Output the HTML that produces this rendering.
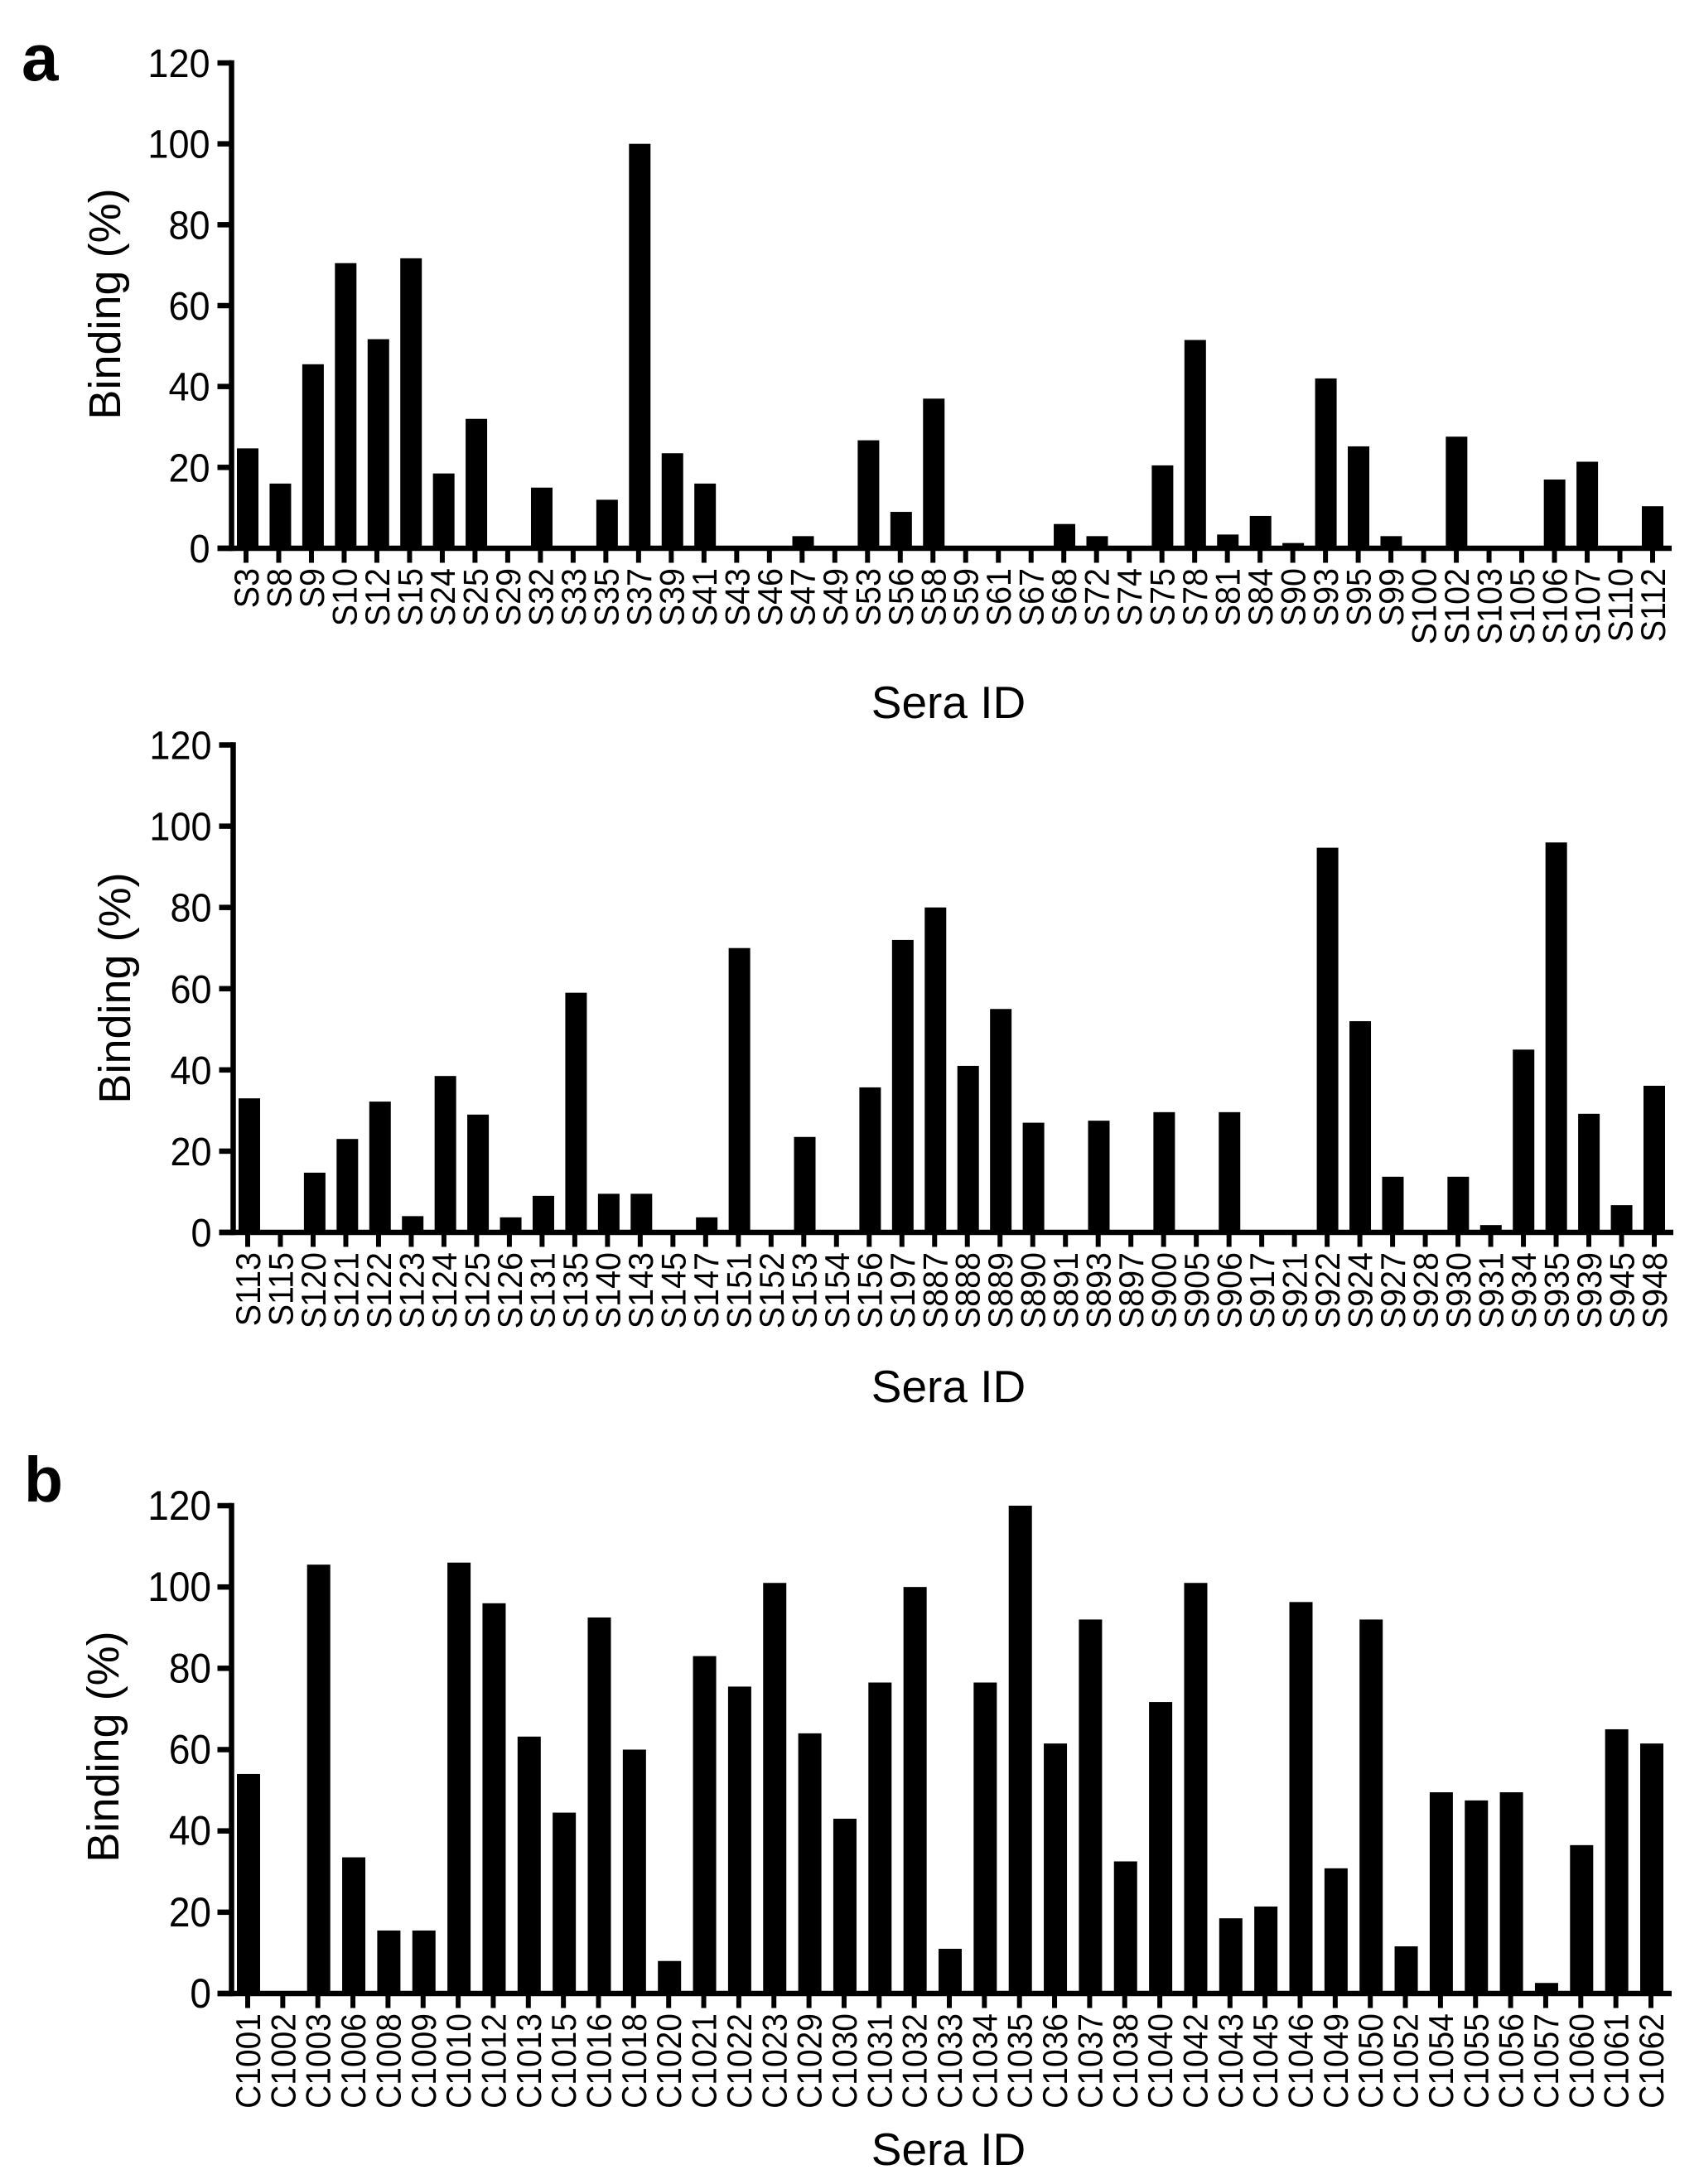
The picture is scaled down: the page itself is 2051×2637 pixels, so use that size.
<!DOCTYPE html>
<html lang="en">
<head>
<meta charset="utf-8">
<title>Sera binding charts</title>
<style>
html,body{margin:0;padding:0;background:#fff;}
svg{display:block;}
text{font-family:"Liberation Sans",Arial,sans-serif;fill:#000;}
</style>
</head>
<body>
<svg id="figure" xmlns="http://www.w3.org/2000/svg" width="2051" height="2637" viewBox="0 0 2051 2637">
  <rect width="2051" height="2637" fill="#fff"/>
  <text x="26" y="97" font-size="80" font-weight="700">a</text>
  <text x="29" y="1813" font-size="77" font-weight="700">b</text>
</svg>
<script>
const yTicks = [0, 20, 40, 60, 80, 100, 120];

const categoriesA1 = ["S3","S8","S9","S10","S12","S15","S24","S25","S29","S32","S33","S35","S37","S39","S41","S43","S46","S47","S49","S53","S56","S58","S59","S61","S67","S68","S72","S74","S75","S78","S81","S84","S90","S93","S95","S99","S100","S102","S103","S105","S106","S107","S110","S112"];
const valuesA1 = [24.7,16,45.5,70.5,51.7,71.7,18.5,32,0,15,0,12,100,23.5,16,0,0,3,0,26.7,9,37,0,0,0,6,3,0,20.5,51.5,3.4,8,1.3,42,25.2,3,0,27.6,0,0,17,21.4,0,10.4];

const categoriesA2 = ["S113","S115","S120","S121","S122","S123","S124","S125","S126","S131","S135","S140","S143","S145","S147","S151","S152","S153","S154","S156","S197","S887","S888","S889","S890","S891","S893","S897","S900","S905","S906","S917","S921","S922","S924","S927","S928","S930","S931","S934","S935","S939","S945","S948"];
const valuesA2 = [33,0,14.7,23,32.2,4,38.5,29,3.7,9,59,9.5,9.5,0,3.7,70,0,23.5,0,35.7,72,80,41,55,27,0,27.5,0,29.6,0,29.6,0,0,94.7,52,13.7,0,13.7,1.8,45,96,29.2,6.7,36.1];

const categoriesB = ["C1001","C1002","C1003","C1006","C1008","C1009","C1010","C1012","C1013","C1015","C1016","C1018","C1020","C1021","C1022","C1023","C1029","C1030","C1031","C1032","C1033","C1034","C1035","C1036","C1037","C1038","C1040","C1042","C1043","C1045","C1046","C1049","C1050","C1052","C1054","C1055","C1056","C1057","C1060","C1061","C1062"];
const valuesB = [54,0,105.5,33.5,15.5,15.5,106,96,63.2,44.5,92.5,60,8,83,75.5,101,64,43,76.5,100,11,76.5,120,61.5,92,32.5,71.7,101,18.5,21.4,96.3,30.8,92,11.6,49.5,47.5,49.5,2.6,36.5,65,61.5];

const SVG_NS = "http://www.w3.org/2000/svg";
const figure = document.getElementById("figure");

function make(tag, parent, attrs, content) {
  const el = document.createElementNS(SVG_NS, tag);
  for (const key in attrs) el.setAttribute(key, attrs[key]);
  if (content !== undefined) el.textContent = content;
  parent.appendChild(el);
  return el;
}

function drawChart(name, categories, values, layout) {
  const maxTick = yTicks[yTicks.length - 1];
  const lineW = 6.5;
  const yScale = v => layout.y0 - (v / maxTick) * (layout.y0 - layout.yTop);
  const barX = i => layout.barFirst + i * (layout.barLast - layout.barFirst) / (categories.length - 1);
  const tickX = i => layout.tickFirst + i * (layout.tickLast - layout.tickFirst) / (categories.length - 1);

  const chart = make("g", figure, {});
  
  

  const bars = make("g", chart, {});
  
  
  values.forEach((v, i) => {
    const bar = make("rect", bars, {
      x: barX(i) - layout.barWidth / 2,
      y: yScale(v),
      width: layout.barWidth,
      height: layout.y0 - yScale(v),
      fill: "#000"
    });
    
    
  });

  const yAxis = make("g", chart, {});
  
  
  make("rect", yAxis, {
    x: layout.axisX - lineW / 2,
    y: yScale(maxTick) - lineW / 2,
    width: lineW,
    height: layout.y0 - yScale(maxTick) + lineW,
    fill: "#000"
  });
  yTicks.forEach(t => {
    const mark = make("rect", yAxis, {
      x: layout.axisX - 17,
      y: yScale(t) - lineW / 2,
      width: 17,
      height: lineW,
      fill: "#000"
    });
    
    
    const label = make("text", yAxis, {
      transform: "translate(" + (layout.axisX - layout.yLabelGap) + "," + (yScale(t) + 17) + ") scale(1,1.08)",
      "font-size": layout.yFont,
      "text-anchor": "end"
    }, String(t));
    
    
  });

  const xAxis = make("g", chart, {});
  
  
  make("rect", xAxis, {
    x: layout.axisX - 17,
    y: layout.y0 - lineW / 2,
    width: layout.axisEnd - layout.axisX + 17,
    height: lineW,
    fill: "#000"
  });
  categories.forEach((c, i) => {
    const mark = make("rect", xAxis, {
      x: tickX(i) - 3,
      y: layout.y0,
      width: 6,
      height: 17.5,
      fill: "#000"
    });
    
    
    const label = make("text", xAxis, {
      transform: "translate(" + (tickX(i) + 15) + "," + (layout.y0 + 24) + ") rotate(-90) scale(1," + layout.xStretch + ")",
      "font-size": layout.xFont,
      "text-anchor": "end"
    }, c);
    
    
  });

  const yTitle = make("text", chart, {
    transform: "translate(" + layout.yTitleX + "," + layout.yTitleY + ") rotate(-90)",
    "font-size": 54,
    "text-anchor": "middle"
  }, "Binding (%)");
  
  

  const xTitle = make("text", chart, {
    x: 1145,
    y: layout.xTitleY,
    "font-size": 55,
    "text-anchor": "middle"
  }, "Sera ID");
  
  
}

drawChart("chart-a-top", categoriesA1, valuesA1, {
  y0: 662, yTop: 76, axisX: 279.5, axisEnd: 2018,
  barFirst: 299, barLast: 1995, tickFirst: 297, tickLast: 1995,
  barWidth: 26, xFont: 39.5, xStretch: 1.05, yFont: 45, yLabelGap: 26,
  yTitleX: 145, yTitleY: 367, xTitleY: 867
});
drawChart("chart-a-bottom", categoriesA2, valuesA2, {
  y0: 1488, yTop: 899.5, axisX: 281.5, axisEnd: 2020,
  barFirst: 301, barLast: 1997, tickFirst: 299, tickLast: 1997,
  barWidth: 26, xFont: 39.5, xStretch: 1.05, yFont: 45, yLabelGap: 26,
  yTitleX: 157, yTitleY: 1193, xTitleY: 1693
});
drawChart("chart-b", categoriesB, valuesB, {
  y0: 2407, yTop: 1818, axisX: 279.5, axisEnd: 2018,
  barFirst: 300, barLast: 1994, tickFirst: 299, tickLast: 1993,
  barWidth: 28, xFont: 39, xStretch: 1.07, yFont: 46, yLabelGap: 24.5,
  yTitleX: 143, yTitleY: 2109, xTitleY: 2614
});
</script>
</body>
</html>
